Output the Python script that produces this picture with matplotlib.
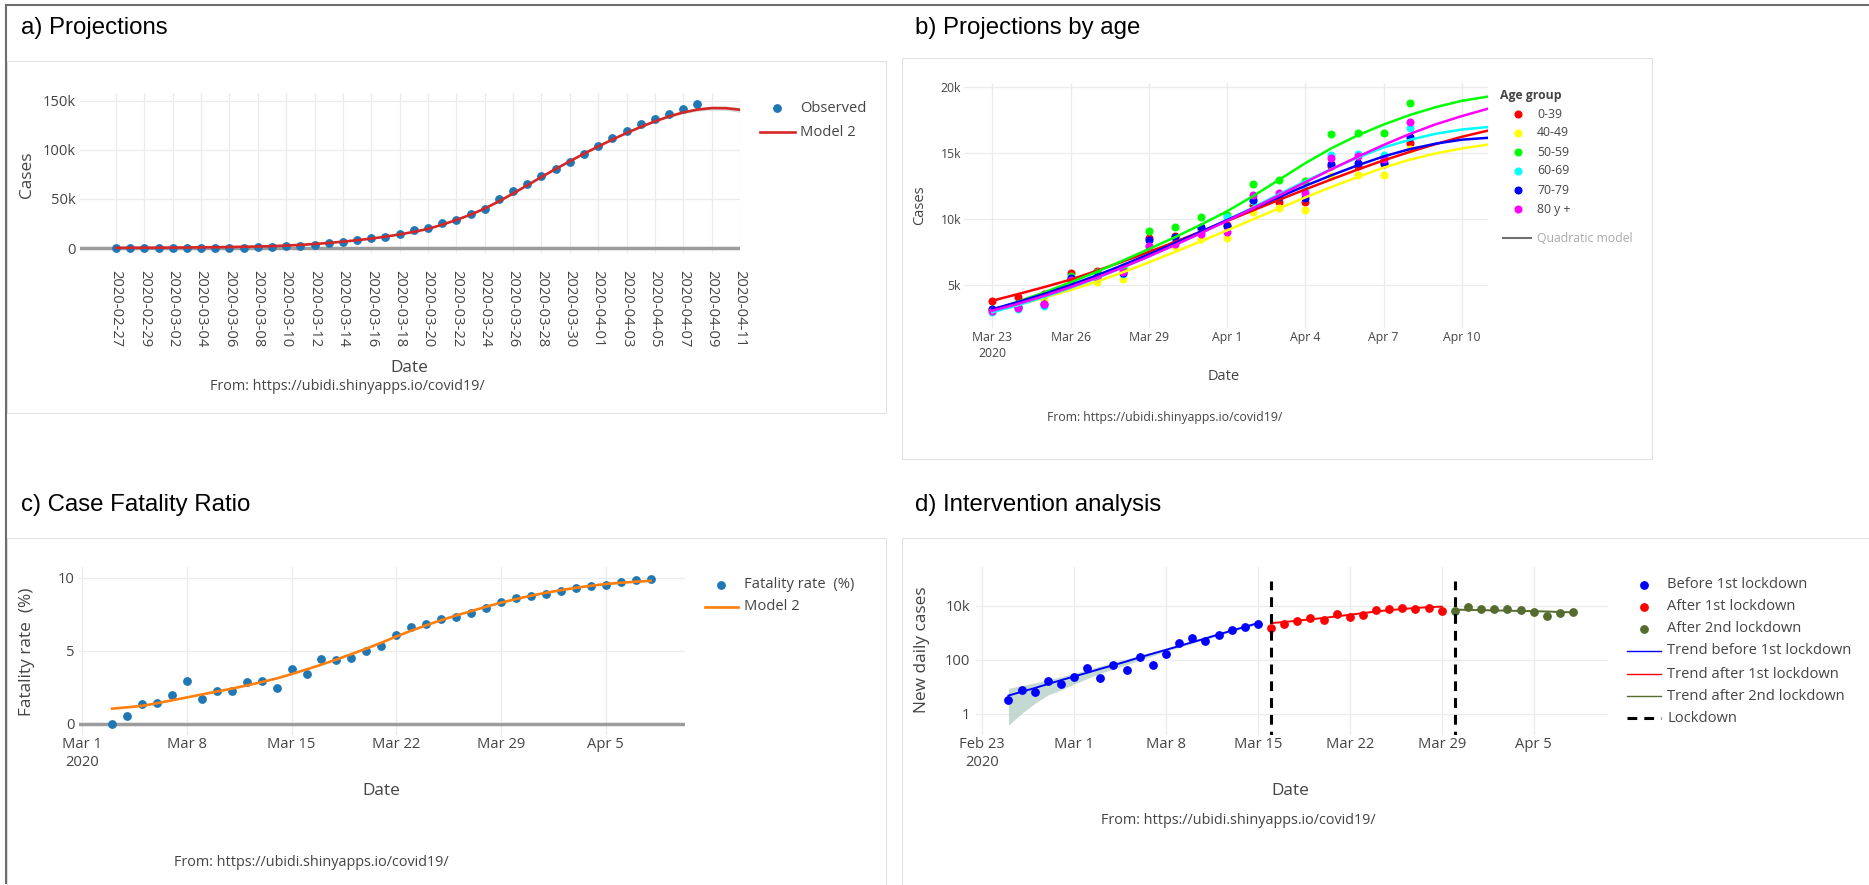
import numpy as np
import pandas as pd
import matplotlib
matplotlib.use("Agg")
import matplotlib.pyplot as plt
import matplotlib.dates as mdates
from matplotlib.lines import Line2D
from matplotlib.patches import Rectangle

plt.rcParams['font.family'] = ['Open Sans', 'DejaVu Sans']

W, H, DPI = 1869, 885, 100

# ------------------------------------------------------------------ data
# a) Projections (thousands of cases)
a_obs_start, a_obs_end = '2020-02-27', '2020-04-08'
a_observed_k = [0.02, 0.03, 0.05, 0.08, 0.12, 0.17, 0.22, 0.26, 0.40, 0.50,
                0.67, 1.07, 1.70, 2.28, 2.95, 5.23, 6.39, 7.80, 9.94, 11.75,
                13.91, 17.96, 20.41, 25.37, 28.60, 35.14, 39.89, 49.52, 57.79, 65.72,
                73.24, 80.11, 87.96, 95.92, 104.12, 112.07, 119.20, 126.17, 131.65, 136.68,
                141.94, 147.00]
a_model_start, a_model_end = '2020-02-27', '2020-04-11'
a_model_k = [0.20, 0.25, 0.30, 0.35, 0.45, 0.55, 0.70, 0.85, 1.05, 1.30,
             1.55, 1.95, 2.50, 3.20, 4.10, 5.20, 6.50, 8.00, 9.60, 11.60,
             13.90, 16.50, 19.50, 23.80, 28.60, 34.00, 40.30, 47.60, 55.60, 64.00,
             72.40, 80.60, 88.50, 96.20, 103.50, 110.60, 117.30, 123.50, 129.20, 134.20,
             138.30, 141.20, 142.70, 142.60, 141.00]
a_band_k = [0.3] * 36 + [0.5, 0.7, 0.9, 1.1, 1.4, 1.7, 2.0, 2.3, 2.6]
a_tick_labels_every = '2D'

# b) Projections by age (thousands of cases)
b_pts_start, b_pts_end = '2020-03-23', '2020-04-08'
b_line_start, b_line_end = '2020-03-23', '2020-04-11'
b_groups = ['0-39', '40-49', '50-59', '60-69', '70-79', '80 y +']
b_colors = ['#ff0000', '#ffff00', '#00ff00', '#00ffff', '#0000ff', '#ff00ff']
b_pts_0_39 = [3.81, 4.09, 4.35, 5.88, 6.09, 6.25, 8.54, 8.75, 9.25, 9.55, 11.06, 11.31, 11.31, 14.05, 14.00, 14.15, 15.78]
b_pts_40_49 = [3.00, 3.25, 3.87, 5.23, 5.23, 5.48, 7.73, 7.95, 8.51, 8.59, 10.55, 10.81, 10.73, 13.28, 13.38, 13.38, 15.36]
b_pts_50_59 = [3.15, 3.30, 4.24, 5.68, 5.96, 6.39, 9.12, 9.42, 10.13, 10.28, 12.70, 13.00, 12.90, 16.44, 16.57, 16.57, 18.81]
b_pts_60_69 = [2.93, 3.20, 3.41, 5.50, 5.55, 5.85, 7.95, 8.30, 9.05, 10.18, 11.40, 11.70, 12.20, 14.85, 14.95, 14.90, 16.95]
b_pts_70_79 = [3.16, 3.30, 3.55, 5.50, 5.63, 5.90, 8.41, 8.66, 9.42, 9.50, 11.47, 11.69, 11.57, 14.22, 14.27, 14.27, 16.24]
b_pts_80 = [3.06, 3.24, 3.56, 5.38, 5.50, 6.01, 7.96, 8.08, 8.91, 8.99, 11.82, 11.95, 12.00, 14.67, 14.80, 14.60, 17.38]
b_fit_0_39 = [3.81, 4.32, 4.85, 5.41, 6.08, 6.78, 7.51, 8.27, 9.06, 9.86, 10.67, 11.47, 12.26, 13.02, 13.76, 14.46, 15.10, 15.70, 16.25, 16.72]
b_fit_40_49 = [3.00, 3.50, 4.04, 4.62, 5.26, 5.96, 6.72, 7.51, 8.32, 9.15, 9.99, 10.83, 11.65, 12.44, 13.19, 13.91, 14.51, 14.99, 15.36, 15.66]
b_fit_50_59 = [3.10, 3.75, 4.45, 5.20, 6.00, 6.85, 7.73, 8.63, 9.58, 10.60, 11.75, 13.00, 14.25, 15.38, 16.35, 17.18, 17.90, 18.50, 18.98, 19.30]
b_fit_60_69 = [2.93, 3.48, 4.10, 4.78, 5.52, 6.32, 7.17, 8.05, 8.97, 9.92, 10.90, 11.90, 12.88, 13.81, 14.67, 15.44, 16.02, 16.48, 16.80, 16.99]
b_fit_70_79 = [3.16, 3.72, 4.33, 5.00, 5.73, 6.51, 7.33, 8.18, 9.05, 9.93, 10.81, 11.68, 12.53, 13.33, 14.08, 14.76, 15.31, 15.73, 16.03, 16.17]
b_fit_80 = [3.05, 3.58, 4.18, 4.84, 5.56, 6.34, 7.17, 8.04, 8.94, 9.87, 10.83, 11.81, 12.80, 13.78, 14.73, 15.63, 16.46, 17.20, 17.82, 18.38]

# c) Case Fatality Ratio (%)
c_start, c_end = '2020-03-03', '2020-04-08'
c_fatality = [0.00, 0.53, 1.37, 1.44, 1.95, 2.93, 1.72, 2.22, 2.22, 2.86,
              2.90, 2.45, 3.73, 3.41, 4.42, 4.39, 4.51, 4.99, 5.31, 6.06,
              6.61, 6.86, 7.21, 7.32, 7.62, 7.94, 8.35, 8.65, 8.74, 8.90,
              9.11, 9.31, 9.43, 9.50, 9.73, 9.84, 9.91]
c_model = [1.03, 1.12, 1.22, 1.40, 1.60, 1.80, 2.00, 2.20, 2.40, 2.62,
           2.85, 3.10, 3.40, 3.72, 4.05, 4.40, 4.77, 5.15, 5.55, 5.98,
           6.38, 6.75, 7.10, 7.42, 7.72, 8.02, 8.30, 8.55, 8.78, 8.98,
           9.16, 9.32, 9.46, 9.58, 9.67, 9.74, 9.80]

# d) Intervention analysis (new daily cases)
d_before_start, d_before_end = '2020-02-25', '2020-03-15'
d_after1_start, d_after1_end = '2020-03-16', '2020-03-29'
d_after2_start, d_after2_end = '2020-03-30', '2020-04-08'
d_before = [3.1, 7.3, 6.2, 16.7, 12.2, 22.9, 49.3, 21.5, 63.6, 40.0,
            132, 65, 162, 414, 635, 505, 843, 1290, 1580, 2100]
d_after1 = [1490, 2100, 2630, 3440, 2860, 5020, 3800, 4650, 6740, 7940, 8660, 7940, 8480, 6500]
d_after2 = [6500, 9380, 7730, 7940, 7560, 7130, 6160, 4260, 5640, 6160]
d_trend_before = [4.7, 6.5, 8.9, 12.6, 17.4, 24, 33, 46, 63, 87,
                  123, 170, 234, 324, 447, 617, 871, 1200, 1660, 2290]
d_trend_before_hi = [8.7, 11.0, 13.8, 17.8, 23.4, 31.6, 42.7, 58.9, 79.4, 107,
                     145, 195, 263, 355, 490, 676, 933, 1290, 1780, 2450]
d_trend_before_lo = [0.37, 1.02, 2.4, 4.9, 7.6, 12.6, 20.0, 31.6, 45.7, 66.1,
                     97.7, 141, 204, 288, 407, 562, 776, 1100, 1510, 2090]
d_trend_after1 = [2290, 2510, 2820, 3160, 3550, 4070, 4680, 5370, 6170, 6920, 7590, 8320, 8910, 9330]
d_trend_after2 = [7240, 7080, 6920, 6760, 6610, 6460, 6310, 6170, 5890, 5750]
d_lockdowns = ['2020-03-16', '2020-03-30']
d_lockdown_span = [0.1, 85000]

SOURCE = "From: https://ubidi.shinyapps.io/covid19/"

# ------------------------------------------------------------------ helpers
fig = plt.figure(figsize=(W / DPI, H / DPI), dpi=DPI)
fig.patch.set_facecolor('white')


def axes_px(x0, y0, x1, y1):
    return fig.add_axes([x0 / W, 1 - y1 / H, (x1 - x0) / W, (y1 - y0) / H])


def ftext(x, y, s, **kw):
    kw.setdefault('va', 'center')
    kw.setdefault('color', '#444444')
    fig.text(x / W, 1 - y / H, s, **kw)


def fline(xs, ys, **kw):
    fig.add_artist(Line2D([x / W for x in xs], [1 - y / H for y in ys],
                          transform=fig.transFigure, **kw))


def fbox(x0, y0, x1, y1):
    fig.add_artist(Rectangle((x0 / W, 1 - y1 / H), (x1 - x0) / W, (y1 - y0) / H,
                             transform=fig.transFigure, fill=False,
                             edgecolor='#e2e2e2', lw=0.8))


def dn(s):
    return mdates.date2num(pd.Timestamp(s).to_pydatetime())


def drange(a, b):
    return mdates.date2num(pd.date_range(a, b, freq='D').to_pydatetime())


def style(ax, size):
    for s in ax.spines.values():
        s.set_visible(False)
    ax.grid(True, color='#ebebeb', lw=0.9)
    ax.set_axisbelow(True)
    ax.tick_params(length=0, labelsize=size, labelcolor='#444444')
    ax.set_facecolor('white')


TITLE = dict(family=['Liberation Sans', 'DejaVu Sans'], fontsize=17.3, color='black',
             ha='left', va='center')
TICK_BIG, AX_BIG, SRC_BIG = 10.6, 12.4, 10.4
TICK_SM, AX_SM = 8.8, 10.5

# frame and panel boxes
fline([6, W], [5, 5], color='#6e6e6e', lw=1.5)
fline([6, 6], [5, 883], color='#6e6e6e', lw=1.5)
fbox(7, 61, 886, 413)
fbox(902, 58, 1652, 459)
fbox(7, 538, 886, 895)
fbox(902, 538, 1880, 895)

ftext(21, 28, "a) Projections", **TITLE)
ftext(915, 28, "b) Projections by age", **TITLE)
ftext(21, 505, "c) Case Fatality Ratio", **TITLE)
ftext(915, 505, "d) Intervention analysis", **TITLE)

# ------------------------------------------------------------------ a)
ax = axes_px(80, 93, 740, 253)
style(ax, TICK_BIG)
xa_obs = drange(a_obs_start, a_obs_end)
xa_mod = drange(a_model_start, a_model_end)
ma = np.array(a_model_k)
ba = np.array(a_band_k)
ax.axhline(0, color='#9c9c9c', lw=2.5, zorder=1.5)
ax.fill_between(xa_mod, ma - ba, ma + ba, color='#a8bdb2', alpha=0.45, lw=0, zorder=2)
ax.plot(xa_obs, a_observed_k, 'o', color='#1f77b4', ms=5.3, zorder=3)
ax.plot(xa_mod, a_model_k, color='#d62728', lw=1.9, zorder=4)
d0 = dn('2020-02-27')
ax.set_xlim(d0 - 2.54, d0 + 44.0)
ax.set_ylim(-5.07, 158.1)
ax.set_yticks([0, 50, 100, 150])
ax.set_yticklabels(['0', '50k', '100k', '150k'])
ticks_a = pd.date_range('2020-02-27', '2020-04-11', freq=a_tick_labels_every)
ax.set_xticks(mdates.date2num(ticks_a.to_pydatetime()))
ax.set_xticklabels([t.strftime('%Y-%m-%d') for t in ticks_a], rotation=-90,
                   ha='center', va='top')
ax.tick_params(axis='x', pad=12)
ax.tick_params(axis='y', pad=3)
ftext(27, 175, "Cases", rotation=90, ha='center', fontsize=AX_BIG)
ftext(409, 368, "Date", ha='center', fontsize=AX_BIG)
ftext(347, 387, SOURCE, ha='center', fontsize=SRC_BIG)
fline([777], [108], marker='o', ms=5.3, color='#1f77b4', lw=0)
ftext(800, 108, "Observed", ha='left', fontsize=TICK_BIG)
fline([760, 795], [132, 132], color='#d62728', lw=1.9)
ftext(800, 132, "Model 2", ha='left', fontsize=TICK_BIG)

# ------------------------------------------------------------------ b)
ax = axes_px(964, 83, 1488, 328)
style(ax, TICK_SM)
xb_p = drange(b_pts_start, b_pts_end)
xb_l = drange(b_line_start, b_line_end)
b_points = [b_pts_0_39, b_pts_40_49, b_pts_50_59, b_pts_60_69, b_pts_70_79, b_pts_80]
b_fits = [b_fit_0_39, b_fit_40_49, b_fit_50_59, b_fit_60_69, b_fit_70_79, b_fit_80]
for pts, col in zip(b_points, b_colors):
    ax.plot(xb_p, pts, 'o', color=col, ms=4.8, zorder=3)
for fit, col in zip(b_fits, b_colors):
    ax.plot(xb_l, fit, color=col, lw=1.8, zorder=4)
b0 = dn('2020-03-23')
ax.set_xlim(b0 - 1.085, b0 + 19.0)
ax.set_ylim(1.74, 20.33)
ax.set_yticks([5, 10, 15, 20])
ax.set_yticklabels(['5k', '10k', '15k', '20k'])
ticks_b = pd.date_range('2020-03-23', '2020-04-10', freq='3D')
ax.set_xticks(mdates.date2num(ticks_b.to_pydatetime()))
lab_b = [f"{t.strftime('%b')} {t.day}" for t in ticks_b]
lab_b[0] += "\n2020"
ax.set_xticklabels(lab_b)
for t in ax.get_xticklabels():
    t.set_linespacing(1.25)
ax.tick_params(axis='x', pad=2.5)
ax.tick_params(axis='y', pad=2)
ftext(920, 205, "Cases", rotation=90, ha='center', fontsize=AX_SM)
ftext(1224, 376, "Date", ha='center', fontsize=AX_SM)
ftext(1165, 418, SOURCE, ha='center', fontsize=TICK_SM)
ftext(1500, 96, "Age group", ha='left', fontsize=TICK_SM, fontweight='bold')
for i, (g, col) in enumerate(zip(b_groups, b_colors)):
    yy = 114 + i * 19
    fline([1518], [yy], marker='o', ms=4.8, color=col, lw=0)
    ftext(1537, yy, g, ha='left', fontsize=TICK_SM)
fline([1503, 1531], [238, 238], color='#707070', lw=1.5)
ftext(1537, 238, "Quadratic model", ha='left', fontsize=TICK_SM, color='#aaaaaa')

# ------------------------------------------------------------------ c)
ax = axes_px(79, 567, 685, 735)
style(ax, TICK_BIG)
xc = drange(c_start, c_end)
ax.axhline(0, color='#9c9c9c', lw=2.5, zorder=1.5)
ax.plot(xc, c_fatality, 'o', color='#1f77b4', ms=5.3, zorder=3)
ax.plot(xc, c_model, color='#ff7f0e', lw=1.9, zorder=4)
c0 = dn('2020-03-01')
ax.set_xlim(c0 - 0.21, c0 + 40.3)
ax.set_ylim(-0.78, 10.75)
ax.set_yticks([0, 5, 10])
ax.set_yticklabels(['0', '5', '10'])
ticks_c = pd.date_range('2020-03-01', '2020-04-05', freq='7D')
ax.set_xticks(mdates.date2num(ticks_c.to_pydatetime()))
lab_c = [f"{t.strftime('%b')} {t.day}" for t in ticks_c]
lab_c[0] += "\n2020"
ax.set_xticklabels(lab_c)
for t in ax.get_xticklabels():
    t.set_linespacing(1.28)
ax.tick_params(axis='x', pad=1.5)
ax.tick_params(axis='y', pad=3)
ftext(27, 652, "Fatality rate  (%)", rotation=90, ha='center', fontsize=AX_BIG)
ftext(381, 791, "Date", ha='center', fontsize=AX_BIG)
ftext(311, 863, SOURCE, ha='center', fontsize=SRC_BIG)
fline([721], [585], marker='o', ms=5.3, color='#1f77b4', lw=0)
ftext(744, 585, "Fatality rate  (%)", ha='left', fontsize=TICK_BIG)
fline([705, 738], [607, 607], color='#ff7f0e', lw=1.9)
ftext(744, 607, "Model 2", ha='left', fontsize=TICK_BIG)

# ------------------------------------------------------------------ d)
ax = axes_px(976, 567, 1608, 735)
style(ax, TICK_BIG)
ax.set_yscale('log')
xd_b = drange(d_before_start, d_before_end)
xd_1 = drange(d_after1_start, d_after1_end)
xd_2 = drange(d_after2_start, d_after2_end)
ax.fill_between(xd_b, d_trend_before_lo, d_trend_before_hi, color='#b9d3c9', alpha=0.85,
                lw=0, zorder=2)
ax.plot(xd_b, d_before, 'o', color='#0000ff', ms=5.3, zorder=3)
ax.plot(xd_1, d_after1, 'o', color='#ff0000', ms=5.3, zorder=3)
ax.plot(xd_2, d_after2, 'o', color='#556b2f', ms=5.3, zorder=3)
ax.plot(xd_b, d_trend_before, color='#0000ff', lw=1.4, zorder=4)
ax.plot(xd_1, d_trend_after1, color='#ff0000', lw=1.4, zorder=4)
ax.plot(xd_2, d_trend_after2, color='#556b2f', lw=1.4, zorder=4)
for ld in d_lockdowns:
    ax.plot([dn(ld), dn(ld)], d_lockdown_span, color='black', lw=2.2,
            linestyle=(0, (3.2, 2.3)), zorder=5)
e0 = dn('2020-02-23')
ax.set_xlim(e0 - 0.47, e0 + 47.66)
ax.set_ylim(10 ** -0.79, 10 ** 5.44)
ax.set_yticks([1, 100, 10000])
ax.set_yticklabels(['1', '100', '10k'])
ax.yaxis.set_minor_locator(matplotlib.ticker.NullLocator())
ticks_d = pd.date_range('2020-02-23', '2020-04-05', freq='7D')
ax.set_xticks(mdates.date2num(ticks_d.to_pydatetime()))
lab_d = [f"{t.strftime('%b')} {t.day}" for t in ticks_d]
lab_d[0] += "\n2020"
ax.set_xticklabels(lab_d)
for t in ax.get_xticklabels():
    t.set_linespacing(1.28)
ax.tick_params(axis='x', pad=1.5)
ax.tick_params(axis='y', pad=4)
ftext(922, 650, "New daily cases", rotation=90, ha='center', fontsize=AX_BIG)
ftext(1290, 791, "Date", ha='center', fontsize=AX_BIG)
ftext(1238, 820, SOURCE, ha='center', fontsize=SRC_BIG)
leg_pts = [("Before 1st lockdown", '#0000ff'), ("After 1st lockdown", '#ff0000'),
           ("After 2nd lockdown", '#556b2f')]
leg_lines = [("Trend before 1st lockdown", '#0000ff'), ("Trend after 1st lockdown", '#ff0000'),
             ("Trend after 2nd lockdown", '#556b2f')]
rows = [585, 607, 629, 651, 674, 696, 718]
for (lab, col), yy in zip(leg_pts, rows[:3]):
    fline([1644], [yy], marker='o', ms=5.3, color=col, lw=0)
    ftext(1667, yy, lab, ha='left', fontsize=TICK_BIG)
for (lab, col), yy in zip(leg_lines, rows[3:6]):
    fline([1627, 1661], [yy, yy], color=col, lw=1.0)
    ftext(1667, yy, lab, ha='left', fontsize=TICK_BIG)
fline([1627, 1661], [718, 718], color='black', lw=2.2, linestyle=(0, (3.2, 2.3)))
ftext(1667, 718, "Lockdown", ha='left', fontsize=TICK_BIG)

fig.savefig("out.png", dpi=DPI, facecolor='white')
